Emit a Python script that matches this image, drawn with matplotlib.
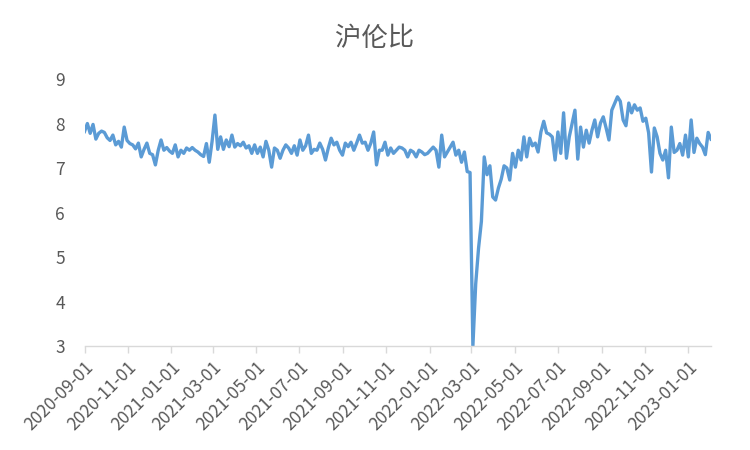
import pandas as pd
import matplotlib.pyplot as plt
import matplotlib.dates as mdates

plt.rcParams['font.family'] = ['Noto Sans CJK SC', 'DejaVu Sans']

# ratio sampled every 4 days from 2020-09-01
start_date = '2020-09-01'
step_days = 4
ratio = [
    7.82, 8.00, 7.78, 7.98, 7.65, 7.78, 7.83, 7.80, 7.68, 7.62,
    7.74, 7.52, 7.60, 7.47, 7.92, 7.62, 7.55, 7.52, 7.43, 7.56,
    7.25, 7.42, 7.56, 7.33, 7.30, 7.07, 7.40, 7.63, 7.40, 7.46,
    7.38, 7.33, 7.52, 7.25, 7.40, 7.33, 7.45, 7.40, 7.46, 7.40,
    7.36, 7.30, 7.26, 7.55, 7.13, 7.60, 8.19, 7.42, 7.70, 7.42,
    7.63, 7.48, 7.74, 7.47, 7.55, 7.50, 7.58, 7.45, 7.50, 7.33,
    7.52, 7.33, 7.47, 7.25, 7.60, 7.40, 7.02, 7.45, 7.40, 7.22,
    7.40, 7.52, 7.45, 7.33, 7.50, 7.29, 7.63, 7.40, 7.50, 7.74,
    7.33, 7.42, 7.40, 7.56, 7.42, 7.18, 7.45, 7.67, 7.52, 7.58,
    7.40, 7.29, 7.56, 7.48, 7.58, 7.40, 7.56, 7.74, 7.56, 7.58,
    7.40, 7.56, 7.81, 7.07, 7.40, 7.40, 7.58, 7.29, 7.45, 7.33,
    7.40, 7.47, 7.45, 7.40, 7.25, 7.40, 7.36, 7.25, 7.40, 7.36,
    7.30, 7.33, 7.40, 7.47, 7.40, 7.02, 7.74, 7.25, 7.36, 7.47,
    7.58, 7.29, 7.40, 7.13, 7.36, 6.92, 6.90, 3.00, 4.40, 5.20,
    5.80, 7.25, 6.85, 7.05, 6.35, 6.28, 6.55, 6.75, 7.05, 7.00,
    6.73, 7.33, 7.02, 7.40, 7.18, 7.70, 7.25, 7.67, 7.50, 7.56,
    7.36, 7.81, 8.05, 7.79, 7.76, 7.70, 7.18, 7.81, 7.33, 8.24,
    7.22, 7.70, 8.00, 8.30, 7.20, 7.92, 7.47, 7.85, 7.56, 7.85,
    8.08, 7.70, 8.01, 8.15, 7.90, 7.63, 8.30, 8.45, 8.60, 8.50,
    8.08, 7.95, 8.46, 8.24, 8.42, 8.30, 8.35, 8.05, 8.12, 7.79,
    6.91, 7.90, 7.70, 7.33, 7.18, 7.40, 6.78, 7.92, 7.35, 7.40,
    7.55, 7.29, 7.74, 7.25, 8.08, 7.35, 7.67, 7.55, 7.47, 7.30,
    7.80, 7.65,
]
dates = pd.date_range(start_date, periods=len(ratio), freq=f'{step_days}D')
title = '沪伦比'

fig = plt.figure(figsize=(7.5, 4.5), dpi=100)
ax = fig.add_axes([0.1127, 0.231, 0.8353, 0.5934])

ax.plot(dates, ratio, color='#5B9BD5', linewidth=2.4)

ax.set_ylim(3, 9)
ax.set_yticks(range(3, 10))
ax.set_xlim(dates[0], dates[-1])
ax.xaxis.set_major_locator(mdates.MonthLocator(bymonth=[1, 3, 5, 7, 9, 11]))
ax.xaxis.set_major_formatter(mdates.DateFormatter('%Y-%m-%d'))

for side in ['top', 'right', 'left']:
    ax.spines[side].set_visible(False)
ax.spines['bottom'].set_color('#D9D9D9')
ax.spines['bottom'].set_linewidth(1)
ax.tick_params(axis='x', colors='#D9D9D9', length=5, width=1, labelcolor='#595959', labelsize=12.5)
ax.tick_params(axis='y', length=0, pad=14, labelcolor='#595959', labelsize=12.5)
for lbl in ax.get_xticklabels():
    lbl.set_rotation(45)
    lbl.set_ha('right')
    lbl.set_rotation_mode('anchor')

fig.text(0.5, 0.915, title, ha='center', va='center', fontsize=19, color='#595959')

fig.savefig('out.png', dpi=100)
